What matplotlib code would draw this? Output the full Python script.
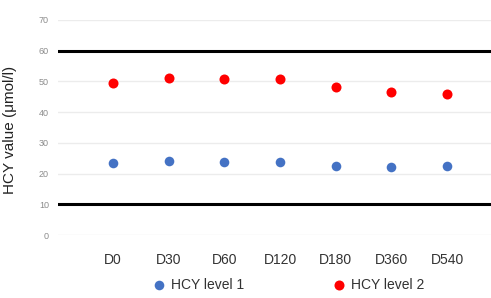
#!/usr/bin/env python3
import matplotlib
matplotlib.use("Agg")
import matplotlib.pyplot as plt

plt.rcParams['font.family'] = ['Liberation Sans', 'DejaVu Sans']

# data
days = ["D0", "D30", "D60", "D120", "D180", "D360", "D540"]
hcy_level1 = [23.5, 24.2, 23.9, 23.8, 22.6, 22.0, 22.6]
hcy_level2 = [49.6, 51.0, 50.8, 50.8, 48.3, 46.7, 45.8]
y_ticks = [0, 10, 20, 30, 40, 50, 60, 70]
limit_lines = [10, 60]

### colours
myblue = "#4472C4"
myred = "#FF0000"
grid_color = "#ececec"
tick_gray = "#8c8c8c"

fig = plt.figure(figsize=(4.91, 2.98), dpi=100)
ax = fig.add_axes([0.118, 0.2114, 0.882, 0.7215])

x = list(range(len(days)))
ax.scatter(x, hcy_level1, s=48, color=myblue, label="HCY level 1", zorder=3,
           linewidths=0)
ax.scatter(x, hcy_level2, s=52, color=myred, label="HCY level 2", zorder=3,
           linewidths=0)

for val in y_ticks:
    ax.axhline(val, color=grid_color, linewidth=1.0, zorder=1)
for val in limit_lines:
    ax.axhline(val, color="black", linewidth=2.2, zorder=2)

ax.set_xlim(-0.99, 6.79)
ax.set_ylim(0, 70)
ax.set_xticks(x)
ax.set_xticklabels(days)
ax.set_yticks(y_ticks)
ax.tick_params(axis="x", length=0, pad=13, labelsize=10, labelcolor="#333333")
ax.tick_params(axis="y", length=0, pad=6.5, labelsize=6.5, labelcolor=tick_gray)
for s in ax.spines.values():
    s.set_visible(False)

ax.set_ylabel("HCY value (\u03bcmol/l)", fontsize=11, color="#222222")
ax.yaxis.set_label_coords(-0.095, 0.49)

fig.legend(loc="center", bbox_to_anchor=(0.587, 0.044), ncol=2, frameon=False,
           fontsize=10, handlelength=1.0, handletextpad=0.4, columnspacing=6.3,
           labelcolor="#333333")

fig.savefig("out.png", dpi=100)
